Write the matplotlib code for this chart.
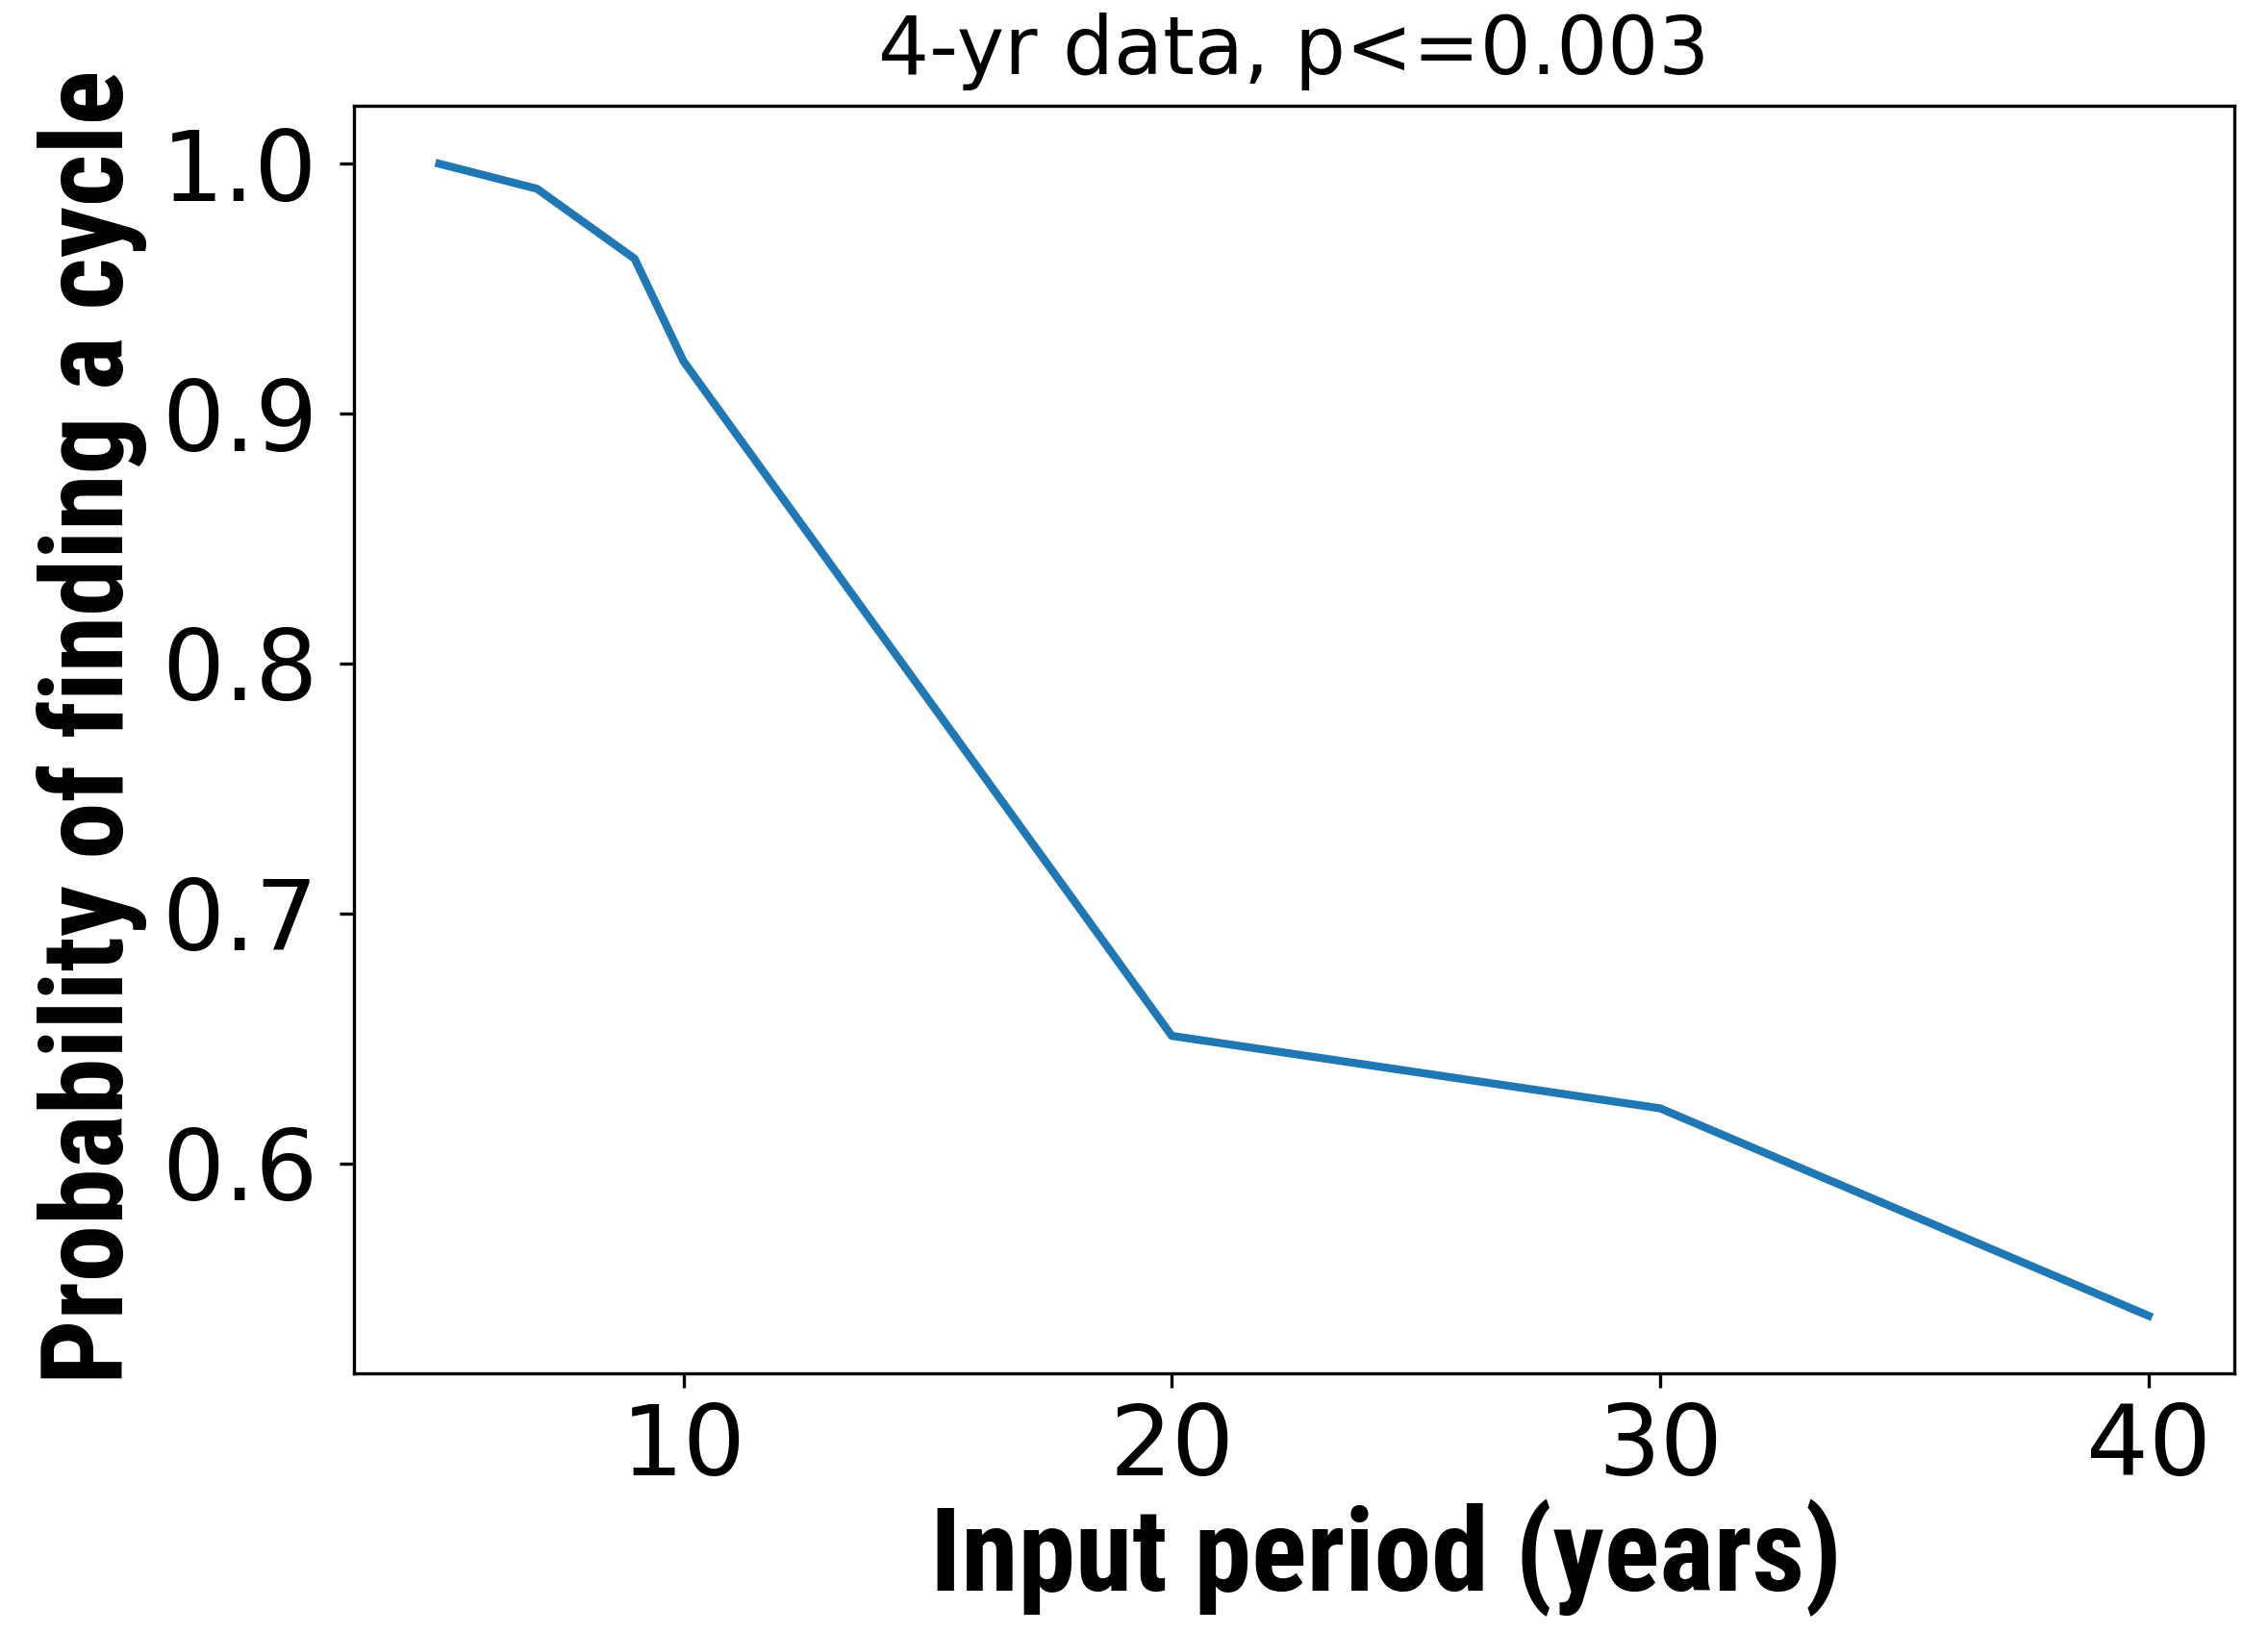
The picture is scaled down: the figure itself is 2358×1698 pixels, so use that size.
import matplotlib
matplotlib.use("Agg")
import matplotlib.pyplot as plt

# input period (years) vs probability of detecting the cycle
periods = [5, 7, 9, 10, 20, 30, 40]
prob = [1.0, 0.990, 0.962, 0.921, 0.651, 0.622, 0.539]


def main():
  fig = plt.figure(figsize=(7.86, 5.66), dpi=300)
  ax = fig.add_axes([0.156, 0.159, 0.829, 0.776])
  ax.plot(periods, prob, color='#1f77b4', linewidth=2.0)
  ax.set_xticks([10, 20, 30, 40])
  ax.set_yticks([0.6, 0.7, 0.8, 0.9, 1.0])
  ax.tick_params(labelsize=24.5)
  ax.tick_params(axis='y', pad=5.5)
  ax.set_title('4-yr data, p<=0.003', fontsize=20, pad=8)
  narrow = ['Liberation Sans Narrow', 'Roboto Condensed', 'DejaVu Sans']
  ax.set_xlabel('Input period (years)', fontsize=28.8, fontweight='bold',
                family=narrow, labelpad=0)
  ax.xaxis.set_label_coords(0.549, -0.099)
  ax.xaxis.label.set_va('top')
  ax.set_ylabel('Probability of finding a cycle', fontsize=28.5,
                fontweight='bold', family=narrow, labelpad=3)
  ax.yaxis.set_label_coords(-0.11, 0.51)
  fig.savefig('out.png', dpi=300)


if __name__ == "__main__":
  main()
